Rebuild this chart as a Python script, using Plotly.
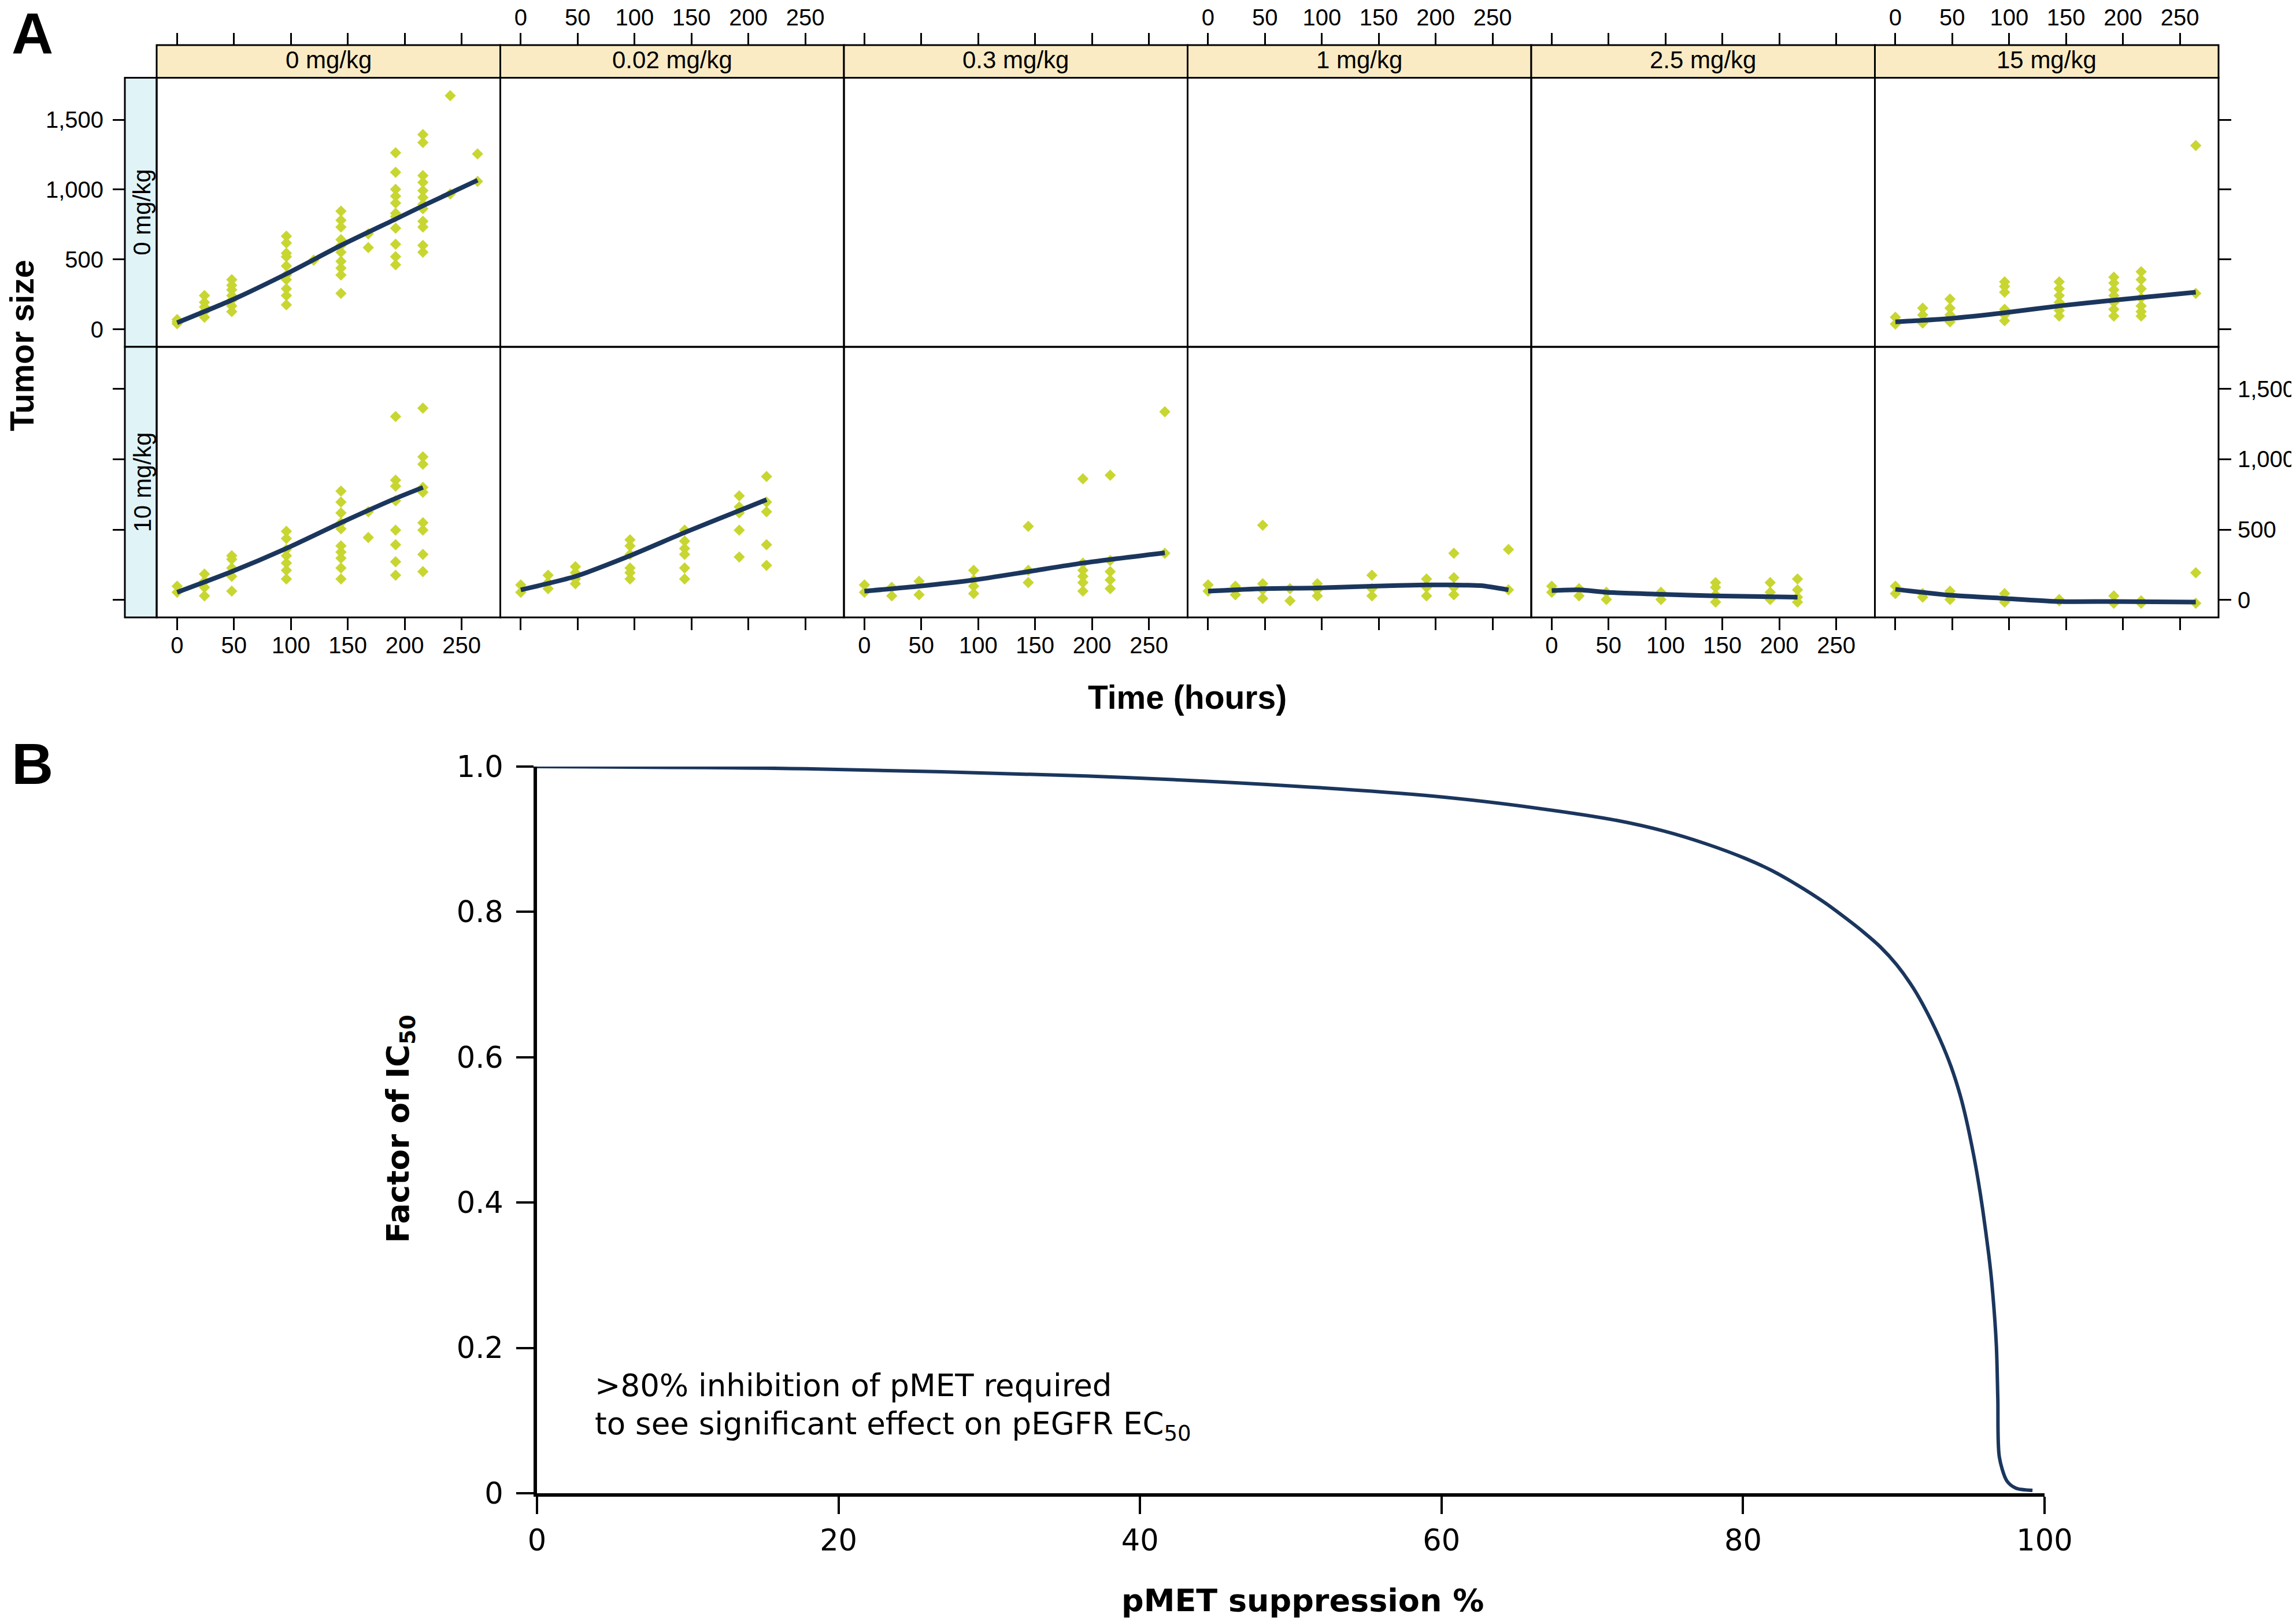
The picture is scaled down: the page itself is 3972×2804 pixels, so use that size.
import plotly.graph_objects as go

W, H = 3972, 2804
FONT_A = "Liberation Sans"
FONT_B = "DejaVu Sans"

# ---------------- Panel A data ----------------
col_labels = ["0 mg/kg", "0.02 mg/kg", "0.3 mg/kg", "1 mg/kg", "2.5 mg/kg", "15 mg/kg"]
row_labels = ["0 mg/kg", "10 mg/kg"]
time_ticks = [0, 50, 100, 150, 200, 250]
size_ticks = [0, 500, 1000, 1500]
size_ticktext = ["0", "500", "1,000", "1,500"]

# top row (0 mg/kg) x column 0 mg/kg
top_c0_t = [0, 24, 48, 96, 120, 144, 168, 192, 216, 240, 264]
top_c0_v = [[40, 55, 70], [242, 193, 160, 127, 87], [356, 315, 283, 242, 209, 168, 127],
            [667, 618, 545, 520, 454, 389, 356, 291, 242, 176], [495],
            [846, 781, 732, 642, 601, 552, 487, 438, 389, 258], [683, 585],
            [1263, 1124, 1002, 953, 904, 830, 806, 724, 609, 520, 462],
            [1394, 1337, 1100, 1051, 993, 944, 895, 863, 773, 732, 601, 552],
            [1672, 969], [1255, 1059]]
top_c0_fit_t = [0, 48, 96, 144, 192, 216, 264]
top_c0_fit_v = [48, 210, 397, 601, 789, 884, 1067]

# top row x column 15 mg/kg
top_c5_t = [0, 24, 48, 96, 144, 192, 216, 264]
top_c5_v = [[87, 38], [152, 103, 46], [217, 152, 103, 54], [340, 307, 266, 144, 103, 62],
            [340, 291, 242, 193, 136, 95], [373, 332, 283, 242, 193, 144, 95],
            [413, 356, 291, 225, 168, 127, 95], [1315, 258]]
top_c5_fit_t = [0, 48, 96, 144, 192, 264]
top_c5_fit_v = [54, 78, 119, 168, 209, 266]

# bottom row (10 mg/kg) x column 0 mg/kg
bot_c0_t = [0, 24, 48, 96, 144, 168, 192, 216]
bot_c0_v = [[97, 54], [184, 132, 89, 28], [314, 288, 227, 167, 62],
            [488, 436, 358, 314, 262, 210, 149],
            [774, 696, 618, 549, 505, 384, 340, 297, 227, 149], [627, 444],
            [1304, 852, 809, 705, 496, 392, 271, 175],
            [1364, 1017, 965, 800, 766, 549, 496, 323, 201]]
bot_c0_fit_t = [0, 48, 96, 144, 192, 216]
bot_c0_fit_v = [54, 201, 366, 549, 722, 800]

# bottom row x column 0.02 mg/kg
bot_c1_t = [0, 24, 48, 96, 144, 192, 216]
bot_c1_v = [[106, 54], [175, 123, 80], [236, 193, 149, 115], [427, 384, 323, 227, 193, 149],
            [496, 418, 366, 323, 227, 149], [740, 661, 618, 496, 305], [878, 696, 627, 392, 245]]
bot_c1_fit_t = [0, 48, 96, 144, 192, 216]
bot_c1_fit_v = [71, 167, 314, 479, 635, 713]

# bottom row x column 0.3 mg/kg
bot_c2_t = [0, 24, 48, 96, 144, 192, 216, 264]
bot_c2_v = [[106, 54], [89, 28], [132, 36], [210, 141, 97, 45], [523, 210, 123],
            [861, 262, 210, 167, 123, 62], [887, 280, 201, 141, 80], [1338, 332]]
bot_c2_fit_t = [0, 48, 96, 144, 192, 264]
bot_c2_fit_v = [62, 97, 141, 201, 262, 335]

# bottom row x column 1 mg/kg
bot_c3_t = [0, 24, 48, 72, 96, 144, 192, 216, 264]
bot_c3_v = [[106, 62], [97, 36], [531, 115, 71, 10], [80, -7], [115, 71, 28],
            [175, 80, 28], [149, 89, 28], [332, 158, 89, 36], [358, 71]]
bot_c3_fit_t = [0, 48, 96, 144, 192, 216, 240, 264]
bot_c3_fit_v = [62, 80, 85, 97, 106, 106, 101, 71]

# bottom row x column 2.5 mg/kg
bot_c4_t = [0, 24, 48, 96, 144, 192, 216]
bot_c4_v = [[97, 54], [80, 28], [54, 2], [54, 2], [123, 89, 36, -16], [123, 54, 2],
            [149, 71, 19, -16]]
bot_c4_fit_t = [0, 24, 48, 96, 144, 216]
bot_c4_fit_v = [66, 71, 54, 40, 28, 19]

# bottom row x column 15 mg/kg
bot_c5_t = [0, 24, 48, 96, 144, 192, 216, 264]
bot_c5_v = [[97, 45], [45, 19], [62, 2], [45, -16], [2, -7], [28, -24], [-7, -24], [193, -24]]
bot_c5_fit_t = [0, 48, 96, 144, 192, 264]
bot_c5_fit_v = [75, 33, 10, -12, -12, -16]

# ---------------- Panel B data ----------------
pmet_supp = [0, 17.8, 36.4, 50.3, 59.6, 66.6, 71.6, 74.8, 77.5, 80.1, 81.9, 83.6, 85.4,
             86.9, 88.0, 89.1, 90.2, 91.3, 92.2, 93.1, 93.8, 94.4, 94.8, 95.3, 95.6, 95.9,
             96.3, 96.5, 96.8, 96.9, 97.0, 97.5, 98.1, 99.2]
ic50_factor = [1.0, 0.997, 0.987, 0.973, 0.959, 0.942, 0.926, 0.911, 0.894, 0.874, 0.857,
               0.837, 0.813, 0.790, 0.772, 0.752, 0.727, 0.695, 0.662, 0.623, 0.587, 0.548,
               0.515, 0.465, 0.430, 0.390, 0.328, 0.290, 0.205, 0.130, 0.050, 0.017, 0.007,
               0.004]
b_xticks = [0, 20, 40, 60, 80, 100]
b_yticks = [0, 0.2, 0.4, 0.6, 0.8, 1.0]
b_yticktext = ["0", "0.2", "0.4", "0.6", "0.8", "1.0"]

# ---------------- styling / layout helpers ----------------
PT_COLOR = "#C8D631"
LINE_COLOR = "#1B365D"
STRIP_Y = "#FAEBC4"
STRIP_B = "#E0F4F8"


def px(p):
    return p / W


def py(p):
    return 1 - p / H


X0, CW = 263, 594.5
ROW_EDGES = [(126.5, 592), (592, 1060)]
STRIP_TOP = 70
LEFT_STRIP_X = 208

panels = [
    (0, 0, top_c0_t, top_c0_v, top_c0_fit_t, top_c0_fit_v),
    (0, 5, top_c5_t, top_c5_v, top_c5_fit_t, top_c5_fit_v),
    (1, 0, bot_c0_t, bot_c0_v, bot_c0_fit_t, bot_c0_fit_v),
    (1, 1, bot_c1_t, bot_c1_v, bot_c1_fit_t, bot_c1_fit_v),
    (1, 2, bot_c2_t, bot_c2_v, bot_c2_fit_t, bot_c2_fit_v),
    (1, 3, bot_c3_t, bot_c3_v, bot_c3_fit_t, bot_c3_fit_v),
    (1, 4, bot_c4_t, bot_c4_v, bot_c4_fit_t, bot_c4_fit_v),
    (1, 5, bot_c5_t, bot_c5_v, bot_c5_fit_t, bot_c5_fit_v),
]

fig = go.Figure()
layout = {}
shapes = []
annotations = []


def sfx(k):
    return "" if k == 1 else str(k)


tickfont_a = dict(family=FONT_A, size=40, color="black")

for row in range(2):
    for col in range(6):
        k = row * 6 + col + 1
        xl, xr = X0 + col * CW, X0 + (col + 1) * CW
        yt, yb = ROW_EDGES[row]
        xa = dict(domain=[px(xl), px(xr)], range=[-18, 284], tickvals=time_ticks,
                  ticks="outside", ticklen=21, tickwidth=3, tickcolor="black",
                  showgrid=False, zeroline=False, showline=False, tickfont=tickfont_a,
                  fixedrange=True, automargin=False)
        if row == 0:
            xa.update(anchor="free", position=py(STRIP_TOP), side="top",
                      showticklabels=(col % 2 == 1), ticklabelstandoff=-3)
        else:
            xa.update(anchor="y" + sfx(k), side="bottom", showticklabels=(col % 2 == 0),
                      ticklabelstandoff=-8)
        ya = dict(domain=[py(yb), py(yt)], range=[-125, 1800], tickvals=size_ticks,
                  ticktext=size_ticktext, showgrid=False, zeroline=False, showline=False,
                  tickfont=tickfont_a, fixedrange=True, automargin=False)
        if col == 0:
            ya.update(anchor="free", position=px(LEFT_STRIP_X), side="left", ticks="outside",
                      ticklen=21, tickwidth=3, tickcolor="black", showticklabels=(row == 0),
                      ticklabelstandoff=8)
        elif col == 5:
            ya.update(anchor="free", position=px(xr), side="right", ticks="outside",
                      ticklen=21, tickwidth=3, tickcolor="black", showticklabels=(row == 1),
                      ticklabelstandoff=3)
        else:
            ya.update(anchor="x" + sfx(k), ticks="", showticklabels=False)
        layout["xaxis" + sfx(k)] = xa
        layout["yaxis" + sfx(k)] = ya
        # empty placeholder trace so every panel is a registered subplot
        fig.add_trace(go.Scatter(x=[None], y=[None], mode="markers", xaxis="x" + sfx(k),
                                 yaxis="y" + sfx(k), showlegend=False, hoverinfo="skip"))
        # panel border
        shapes.append(dict(type="rect", xref="paper", yref="paper", x0=px(xl), x1=px(xr),
                           y0=py(yb), y1=py(yt), line=dict(color="black", width=3),
                           fillcolor="rgba(0,0,0,0)", layer="above"))
        if row == 0:
            shapes.append(dict(type="rect", xref="paper", yref="paper", x0=px(xl), x1=px(xr),
                               y0=py(yt), y1=py(STRIP_TOP), line=dict(color="black", width=3),
                               fillcolor=STRIP_Y, layer="below"))
            annotations.append(dict(xref="paper", yref="paper", x=px((xl + xr) / 2),
                                    y=py((yt + STRIP_TOP) / 2 - 3), text=col_labels[col],
                                    showarrow=False, xanchor="center", yanchor="middle",
                                    font=dict(family=FONT_A, size=42, color="black")))
    yt, yb = ROW_EDGES[row]
    shapes.append(dict(type="rect", xref="paper", yref="paper", x0=px(LEFT_STRIP_X), x1=px(X0),
                       y0=py(yb), y1=py(yt), line=dict(color="black", width=3),
                       fillcolor=STRIP_B, layer="below"))
    annotations.append(dict(xref="paper", yref="paper", x=px((LEFT_STRIP_X + X0) / 2 + 2),
                            y=py((yt + yb) / 2), text=row_labels[row], textangle=-90,
                            showarrow=False, xanchor="center", yanchor="middle",
                            font=dict(family=FONT_A, size=42, color="black")))

for row, col, tlist, vgroups, ft, fv in panels:
    k = row * 6 + col + 1
    xs, ys = [], []
    for t, grp in zip(tlist, vgroups):
        for v in grp:
            xs.append(t)
            ys.append(v)
    fig.add_trace(go.Scatter(x=xs, y=ys, mode="markers", xaxis="x" + sfx(k), yaxis="y" + sfx(k),
                             marker=dict(symbol="diamond", size=15, color=PT_COLOR,
                                         line=dict(width=0)),
                             showlegend=False, hoverinfo="skip"))
    fig.add_trace(go.Scatter(x=ft, y=fv, mode="lines", xaxis="x" + sfx(k), yaxis="y" + sfx(k),
                             line=dict(color=LINE_COLOR, width=8, shape="spline", smoothing=0.6),
                             showlegend=False, hoverinfo="skip"))

# ---------------- Panel B ----------------
layout["xaxis13"] = dict(domain=[px(921), px(3529)], range=[0, 100], anchor="y13",
                         tickvals=b_xticks, ticks="outside", ticklen=30, tickwidth=4,
                         tickcolor="black", showline=True, linewidth=6, linecolor="black",
                         showgrid=False, zeroline=False, ticklabelstandoff=2,
                         tickfont=dict(family=FONT_B, size=51, color="black"),
                         fixedrange=True, automargin=False)
layout["yaxis13"] = dict(domain=[py(2575), py(1318)], range=[0, 1], anchor="x13",
                         tickvals=b_yticks, ticktext=b_yticktext, ticks="outside", ticklen=30,
                         tickwidth=4, tickcolor="black", showline=True, linewidth=6,
                         linecolor="black", showgrid=False, zeroline=False,
                         ticklabelstandoff=12,
                         tickfont=dict(family=FONT_B, size=51, color="black"),
                         fixedrange=True, automargin=False)
fig.add_trace(go.Scatter(x=pmet_supp, y=ic50_factor, mode="lines", xaxis="x13", yaxis="y13",
                         line=dict(color=LINE_COLOR, width=6, shape="spline", smoothing=0.8),
                         cliponaxis=False, showlegend=False, hoverinfo="skip"))


# ---------------- text annotations ----------------
def ann(x, y, text, size, family, bold=False, angle=0, xanchor="center", yanchor="middle"):
    annotations.append(dict(xref="paper", yref="paper", x=px(x), y=py(y),
                            text=("<b>%s</b>" % text) if bold else text, textangle=angle,
                            showarrow=False, xanchor=xanchor, yanchor=yanchor,
                            font=dict(family=family, size=size, color="black")))


ann(48, 50, "A", 100, FONT_A, bold=True)
ann(48, 1313, "B", 100, FONT_A, bold=True)
ann(30, 590, "Tumor size", 57, FONT_A, bold=True, angle=-90)
ann(2046, 1198, "Time (hours)", 57, FONT_A, bold=True)
ann(684, 1945, "Factor of IC<sub>50</sub>", 53, FONT_B, bold=True, angle=-90)
ann(2245, 2760, "pMET suppression %", 54, FONT_B, bold=True)
ann(1019, 2388, "&gt;80% inhibition of pMET required", 53, FONT_B, xanchor="left")
ann(1019, 2458, "to see significant effect on pEGFR EC<sub>50</sub>", 53, FONT_B, xanchor="left")

layout.update(dict(width=W, height=H, autosize=False, margin=dict(l=0, r=0, t=0, b=0, pad=0),
                   paper_bgcolor="white", plot_bgcolor="white", shapes=shapes,
                   annotations=annotations, showlegend=False,
                   font=dict(family=FONT_A, color="black")))
fig.update_layout(**layout)
fig.write_html("out.html")
